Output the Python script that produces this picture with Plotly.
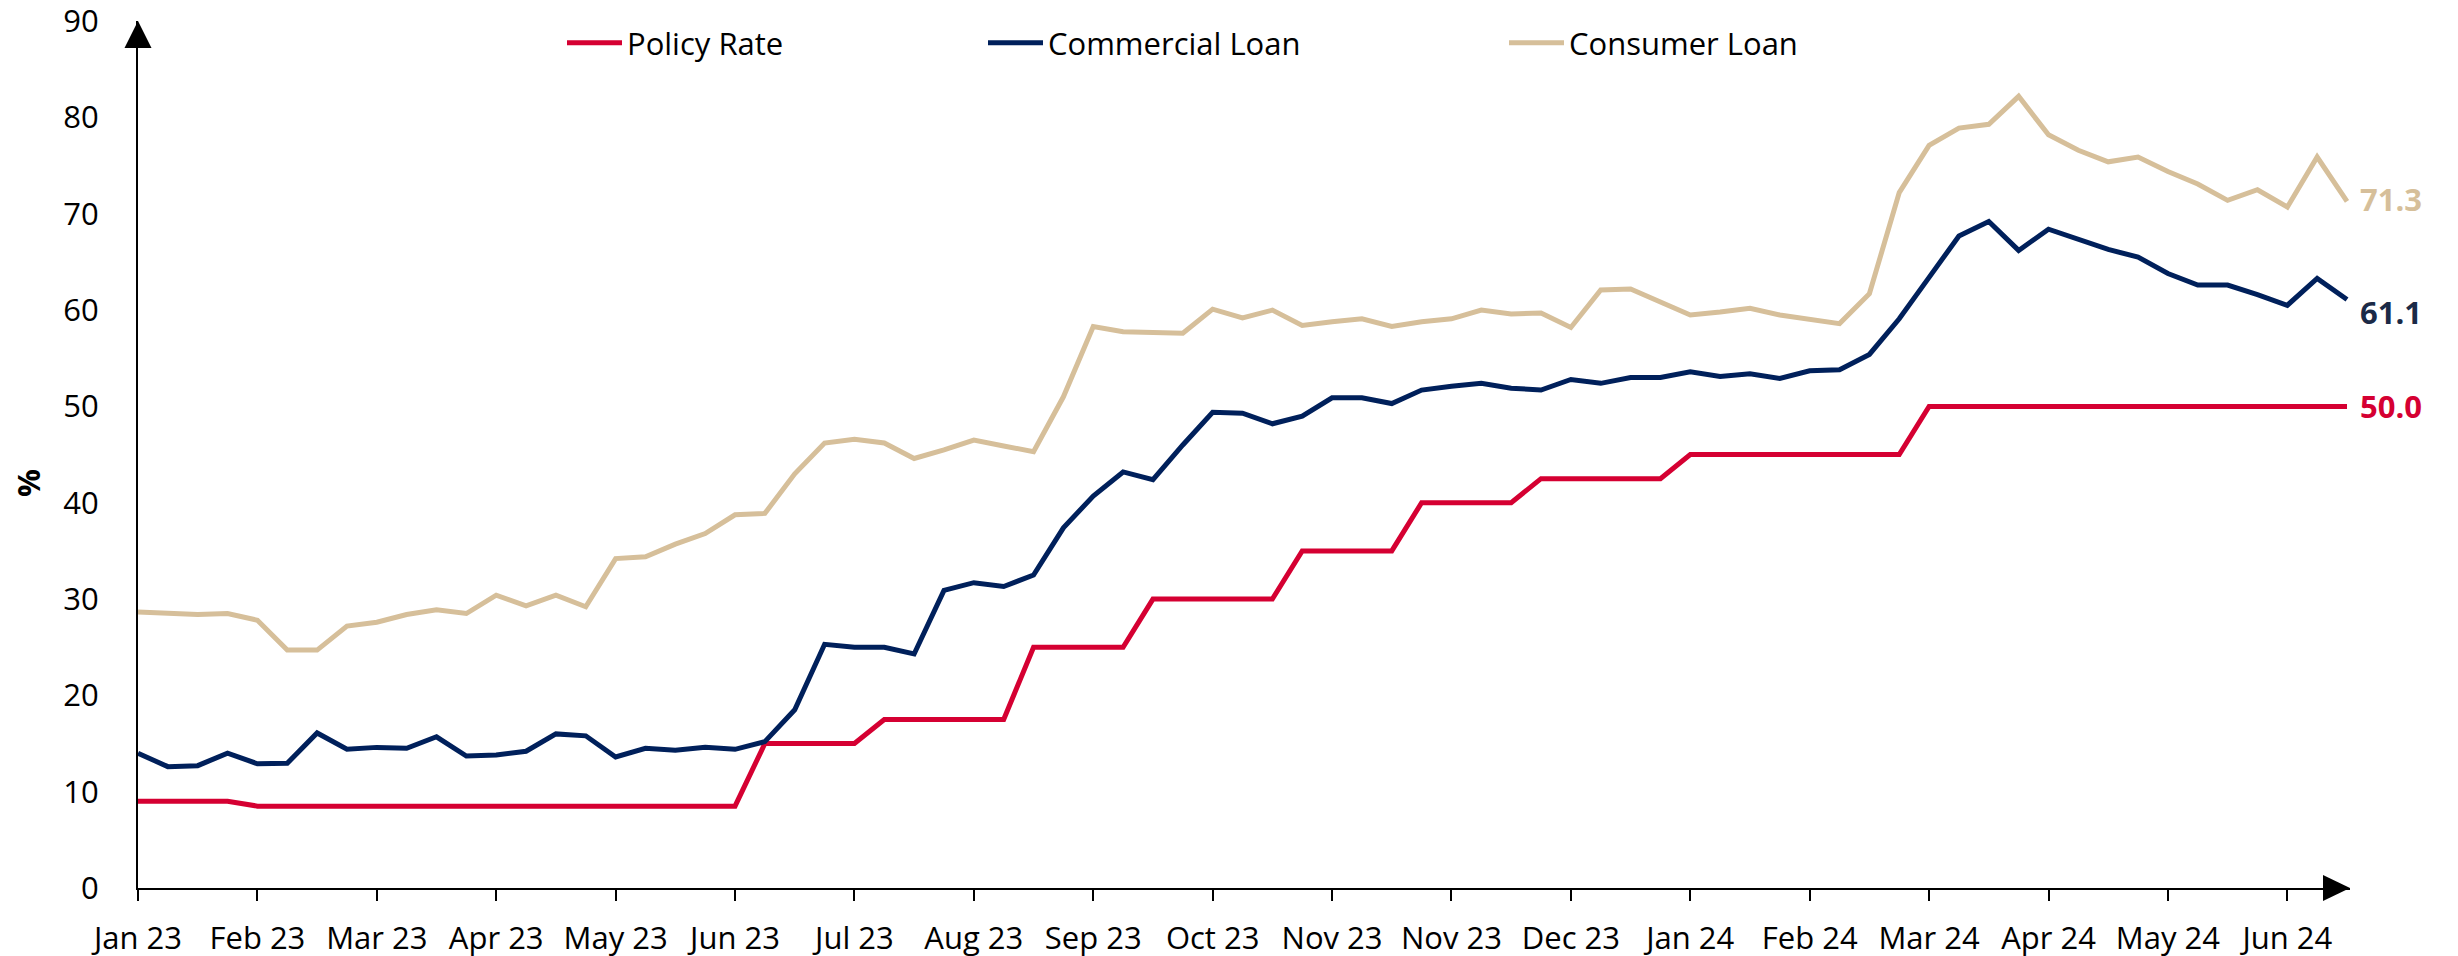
import plotly.graph_objects as go

# ---------------- data ----------------
month_labels = ["Jan 23", "Feb 23", "Mar 23", "Apr 23", "May 23", "Jun 23", "Jul 23",
                "Aug 23", "Sep 23", "Oct 23", "Nov 23", "Nov 23", "Dec 23", "Jan 24",
                "Feb 24", "Mar 24", "Apr 24", "May 24", "Jun 24"]

week_index = list(range(75))

policy_rate = ([9.0] * 4 + [8.5] * 17 + [15.0] * 4 + [17.5] * 5 + [25.0] * 4 +
               [30.0] * 5 + [35.0] * 4 + [40.0] * 4 + [42.5] * 5 + [45.0] * 8 + [50.0] * 15)

commercial_loan = [14.0, 12.6, 12.7, 14.0, 12.9, 12.95, 16.1, 14.4, 14.6, 14.5,
                   15.7, 13.7, 13.8, 14.2, 16.0, 15.8, 13.6, 14.5, 14.3, 14.6,
                   14.4, 15.2, 18.5, 25.3, 25.0, 25.0, 24.3, 30.9, 31.7, 31.3,
                   32.5, 37.4, 40.7, 43.2, 42.4, 46.0, 49.4, 49.3, 48.2, 49.0,
                   50.9, 50.9, 50.3, 51.7, 52.1, 52.4, 51.9, 51.7, 52.8, 52.4,
                   53.0, 53.0, 53.6, 53.1, 53.4, 52.9, 53.7, 53.8, 55.4, 59.1,
                   63.4, 67.7, 69.2, 66.2, 68.4, 67.3, 66.3, 65.5, 63.8, 62.6,
                   62.6, 61.6, 60.5, 63.3, 61.1]

consumer_loan = [28.65, 28.5, 28.4, 28.5, 27.8, 24.7, 24.7, 27.2, 27.6, 28.4,
                 28.9, 28.5, 30.4, 29.3, 30.4, 29.2, 34.2, 34.4, 35.7, 36.8,
                 38.75, 38.9, 43.0, 46.2, 46.6, 46.2, 44.6, 45.5, 46.5, 45.9,
                 45.3, 51.0, 58.3, 57.75, 57.7, 57.6, 60.1, 59.2, 60.0, 58.4,
                 58.8, 59.1, 58.3, 58.8, 59.1, 60.0, 59.6, 59.7, 58.2, 62.1,
                 62.2, 60.9, 59.5, 59.8, 60.2, 59.5, 59.1, 58.6, 61.7, 72.2,
                 77.1, 78.9, 79.3, 82.2, 78.2, 76.6, 75.4, 75.9, 74.4, 73.1,
                 71.4, 72.5, 70.7, 75.9, 71.3]

series_names = ["Policy Rate", "Commercial Loan", "Consumer Loan"]
series_colors = ["#D50032", "#00205B", "#D6BF9A"]
label_colors = ["#D50032", "#1B2A47", "#D6BF9A"]
label_shift = [0, -12, 2]

FONT = "Open Sans"
W, H = 2458, 956
ML, MR, MT, MB = 138, 108, 21, 68
PW = W - ML - MR
PH = H - MT - MB
X_AXIS_PX = H - MB  # pixel row of the x axis

fig = go.Figure()
all_series = [policy_rate, commercial_loan, consumer_loan]
legend_keys = ["legend", "legend2", "legend3"]
legend_px = [567, 988, 1509]

for vals, name, col, lk in zip(all_series, series_names, series_colors, legend_keys):
    fig.add_trace(go.Scatter(
        x=week_index, y=vals, mode="lines", name=name,
        line=dict(color=col, width=5),
        legend=lk, hoverinfo="skip",
    ))

# end-of-line value labels
for vals, col, ys in zip(all_series, label_colors, label_shift):
    fig.add_annotation(
        x=week_index[-1], y=vals[-1], xref="x", yref="y",
        text=f"<b>{vals[-1]:.1f}</b>", showarrow=False,
        xanchor="left", yanchor="middle", xshift=11, yshift=ys,
        font=dict(family=FONT, size=31, color=col),
    )

# y-axis title
fig.add_annotation(
    x=(28 - ML) / PW, y=(X_AXIS_PX - 483) / PH, xref="paper", yref="paper",
    text="<b>%</b>", showarrow=False, textangle=-90,
    font=dict(family=FONT, size=31, color="#000000"),
    xanchor="center", yanchor="middle",
)

# axis arrowheads
fig.add_shape(type="path", xref="paper", yref="paper",
              xsizemode="pixel", ysizemode="pixel", xanchor=0, yanchor=1,
              path="M-13.5,-27 L0,0 L13.5,-27 Z",
              fillcolor="#000000", line=dict(width=0))
fig.add_shape(type="path", xref="paper", yref="paper",
              xsizemode="pixel", ysizemode="pixel", xanchor=1, yanchor=0,
              path="M-27,13 L0,0 L-27,-13 Z",
              fillcolor="#000000", line=dict(width=0))

layout_legends = {}
for lk, px in zip(legend_keys, legend_px):
    layout_legends[lk] = dict(
        x=(px - 5 - ML) / PW, y=(X_AXIS_PX - 43) / PH, xanchor="left", yanchor="middle",
        orientation="h", bgcolor="rgba(0,0,0,0)", borderwidth=0,
        font=dict(family=FONT, size=31, color="#000000"),
        itemwidth=55, itemclick=False, itemdoubleclick=False,
    )

fig.update_layout(
    template="none",
    width=W, height=H,
    margin=dict(l=ML, r=MR, t=MT, b=MB, autoexpand=False),
    paper_bgcolor="white", plot_bgcolor="white",
    font=dict(family=FONT, size=31, color="#000000"),
    showlegend=True,
    **layout_legends,
    xaxis=dict(
        range=[0, 74.1], tickvals=week_index[::4], ticktext=month_labels,
        showgrid=False, zeroline=False, showline=True, linecolor="#000000", linewidth=2,
        ticks="outside", ticklen=11, tickwidth=2, tickcolor="#000000",
        tickfont=dict(family=FONT, size=31, color="#000000"),
        ticklabelstandoff=11, automargin=False,
    ),
    yaxis=dict(
        range=[0, 90.02], tickvals=list(range(0, 91, 10)),
        showgrid=False, zeroline=False, showline=True, linecolor="#000000", linewidth=2,
        ticks="", tickfont=dict(family=FONT, size=31, color="#000000"),
        ticklabelstandoff=31, automargin=False, ticklabeloverflow="allow",
    ),
)

fig.write_html("out.html",
               config={"displayModeBar": False},
               post_script="document.body.style.margin='0';document.body.style.overflow='hidden';")
